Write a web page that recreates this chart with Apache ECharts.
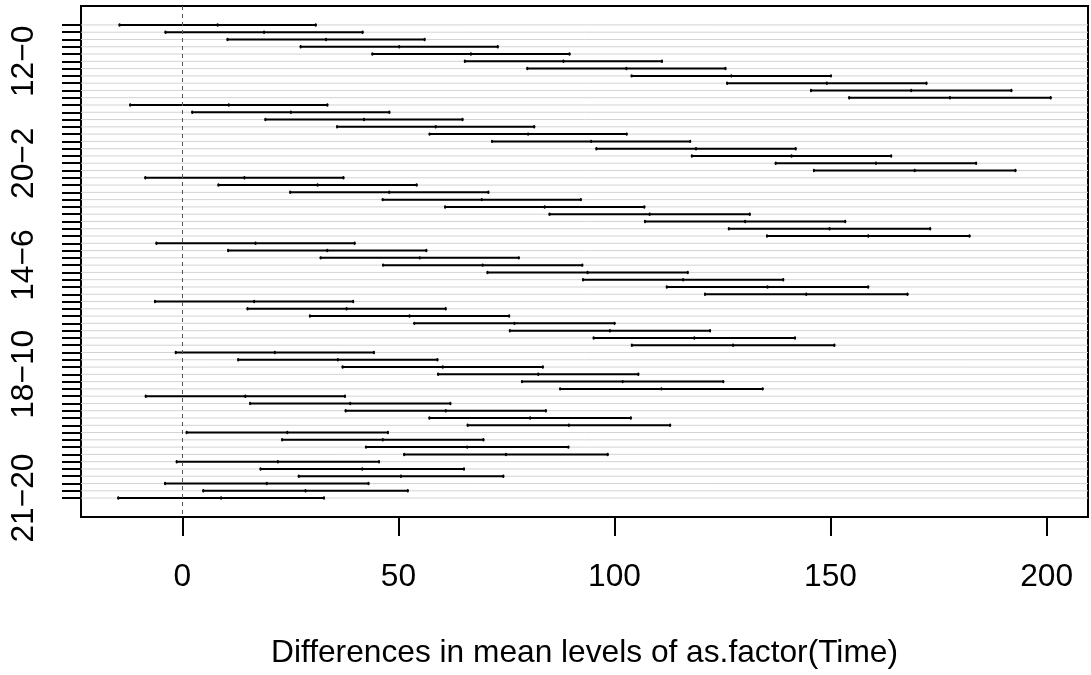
<!DOCTYPE html>
<html>
<head>
<meta charset="utf-8">
<script src="https://cdn.jsdelivr.net/npm/echarts@6/dist/echarts.min.js"></script>
<style>
  html, body { margin: 0; padding: 0; background: #fff; }
  #chart { width: 1091px; height: 675px; }
</style>
</head>
<body>
<div id="chart"></div>
<script>
// Pairwise comparisons of Time levels (top row first)
const comparisons = [
  "2-0","4-0","6-0","8-0","10-0","12-0","14-0","16-0","18-0","20-0","21-0",
  "4-2","6-2","8-2","10-2","12-2","14-2","16-2","18-2","20-2","21-2",
  "6-4","8-4","10-4","12-4","14-4","16-4","18-4","20-4","21-4",
  "8-6","10-6","12-6","14-6","16-6","18-6","20-6","21-6",
  "10-8","12-8","14-8","16-8","18-8","20-8","21-8",
  "12-10","14-10","16-10","18-10","20-10","21-10",
  "14-12","16-12","18-12","20-12","21-12",
  "16-14","18-14","20-14","21-14",
  "18-16","20-16","21-16",
  "20-18","21-18",
  "21-20"
];

// Lower bounds of the 95% family-wise intervals
const lwr = [
  -14.54, -3.91, 10.44, 27.37, 43.97, 65.37, 79.82, 103.97, 126.07, 145.47, 154.31,
  -12.07, 2.28, 19.21, 35.81, 57.21, 71.66, 95.81, 117.91, 137.31, 146.15,
  -8.58, 8.35, 24.95, 46.35, 60.80, 84.96, 107.06, 126.46, 135.30,
  -6.00, 10.60, 32.00, 46.45, 70.61, 92.71, 112.11, 120.95,
  -6.33, 15.07, 29.52, 53.68, 75.78, 95.18, 104.02,
  -1.53, 12.92, 37.08, 59.18, 78.58, 87.42,
  -8.48, 15.68, 37.78, 57.18, 66.02,
  0.99, 23.09, 42.49, 51.33,
  -1.31, 18.09, 26.93,
  -4.01, 4.83,
  -14.83
];

// Estimated differences in means
const diffs = [
  8.16, 18.90, 33.25, 50.18, 66.78, 88.18, 102.75, 127.03, 149.13, 168.66, 177.63,
  10.74, 25.09, 42.02, 58.62, 80.02, 94.59, 118.87, 140.97, 160.50, 169.47,
  14.35, 31.28, 47.88, 69.28, 83.85, 108.13, 130.23, 149.76, 158.73,
  16.93, 33.53, 54.93, 69.50, 93.78, 115.88, 135.41, 144.38,
  16.60, 38.00, 52.57, 76.85, 98.95, 118.48, 127.45,
  21.40, 35.97, 60.25, 82.35, 101.88, 110.85,
  14.57, 38.85, 60.95, 80.48, 89.45,
  24.28, 46.38, 65.91, 74.88,
  22.10, 41.63, 50.60,
  19.53, 28.50,
  8.97
];

// Upper bounds
const upr = [
  30.86, 41.71, 56.06, 72.99, 89.59, 110.99, 125.68, 150.09, 172.19, 191.85, 200.95,
  33.55, 47.90, 64.83, 81.43, 102.83, 117.52, 141.93, 164.03, 183.69, 192.79,
  37.28, 54.21, 70.81, 92.21, 106.90, 131.30, 153.40, 173.06, 182.16,
  39.86, 56.46, 77.86, 92.55, 116.95, 139.05, 158.71, 167.81,
  39.53, 60.93, 75.62, 100.02, 122.12, 141.78, 150.88,
  44.33, 59.02, 83.42, 105.52, 125.18, 134.28,
  37.62, 62.02, 84.12, 103.78, 112.88,
  47.57, 69.67, 89.33, 98.43,
  45.51, 65.17, 74.27,
  43.07, 52.17,
  32.77
];

// Comparison names printed on the vertical axis
const shownLabels = ["12-0", "20-2", "14-6", "18-10", "21-20"];
// Tick labels on the horizontal axis
const xTicks = [0, 50, 100, 150, 200];

const FONT = "'Liberation Sans', Arial, Helvetica, sans-serif";
const FONT_SIZE = 31.7;

const rows = comparisons.map((name, i) => [i + 1, lwr[i], diffs[i], upr[i]]);
const rowTicks = comparisons.map((_, i) => i + 1);
const labelRows = shownLabels.map(n => comparisons.indexOf(n) + 1);

// Light grey guide line across the panel for each comparison
function renderGuide(params, api) {
  const cs = params.coordSys;
  const y = api.coord([0, api.value(0)])[1];
  return {
    type: 'line',
    shape: { x1: cs.x, y1: y, x2: cs.x + cs.width, y2: y },
    style: { stroke: '#d3d3d3', lineWidth: 1 }
  };
}

// Confidence interval segment with small marks at lwr, diff and upr
function renderInterval(params, api) {
  const row = api.value(0);
  const pl = api.coord([api.value(1), row]);
  const pd = api.coord([api.value(2), row]);
  const pu = api.coord([api.value(3), row]);
  const y = pl[1];
  const half = api.size([0, 0.1])[1];
  const style = { stroke: '#000', lineWidth: 2, lineCap: 'round' };
  const marks = [pl, pd, pu].map(p => ({
    type: 'line',
    shape: { x1: p[0], y1: y - half, x2: p[0], y2: y + half },
    style: style
  }));
  return {
    type: 'group',
    children: [{
      type: 'line',
      shape: { x1: pl[0], y1: y, x2: pu[0], y2: y },
      style: style
    }].concat(marks)
  };
}

const chart = echarts.init(document.getElementById('chart'), null, { renderer: 'canvas' });

chart.setOption({
  animation: false,
  backgroundColor: '#fff',
  grid: {
    left: 81, top: 6, width: 1007, height: 511,
    show: true, borderColor: '#000', borderWidth: 2,
    backgroundColor: 'transparent'
  },
  xAxis: {
    type: 'value',
    position: 'bottom',
    min: -23.46, max: 209.58,
    splitLine: { show: false },
    axisLine: { show: false, onZero: false },
    axisTick: {
      show: true, inside: false, length: 19,
      customValues: xTicks,
      lineStyle: { color: '#000', width: 2 }
    },
    axisLabel: {
      customValues: xTicks,
      fontFamily: FONT, fontSize: FONT_SIZE, color: '#000', margin: 44
    },
    name: 'Differences in mean levels of as.factor(Time)',
    nameLocation: 'middle',
    nameGap: 120,
    nameTextStyle: { fontFamily: FONT, fontSize: FONT_SIZE, color: '#000' }
  },
  yAxis: {
    type: 'value',
    position: 'left',
    inverse: true,
    min: -1.6, max: 68.6,
    splitLine: { show: false },
    axisLine: { show: false, onZero: false },
    axisTick: {
      show: true, inside: false, length: 19,
      customValues: rowTicks,
      lineStyle: { color: '#000', width: 2 }
    },
    axisLabel: {
      customValues: labelRows,
      rotate: 90,
      fontFamily: FONT, fontSize: FONT_SIZE, color: '#000', margin: 41,
      formatter: v => comparisons[Math.round(v) - 1].replace('-', '\u2212')
    }
  },
  series: [
    {
      type: 'custom',
      renderItem: renderGuide,
      data: rows,
      encode: { x: [1, 3], y: 0 },
      silent: true,
      z: 1,
      markLine: {
        silent: true,
        symbol: ['none', 'none'],
        label: { show: false },
        lineStyle: { color: '#555', width: 1, type: [4, 4] },
        data: [{ xAxis: 0 }]
      }
    },
    {
      type: 'custom',
      renderItem: renderInterval,
      data: rows,
      encode: { x: [1, 2, 3], y: 0 },
      silent: true,
      z: 3
    }
  ]
});
</script>
</body>
</html>
